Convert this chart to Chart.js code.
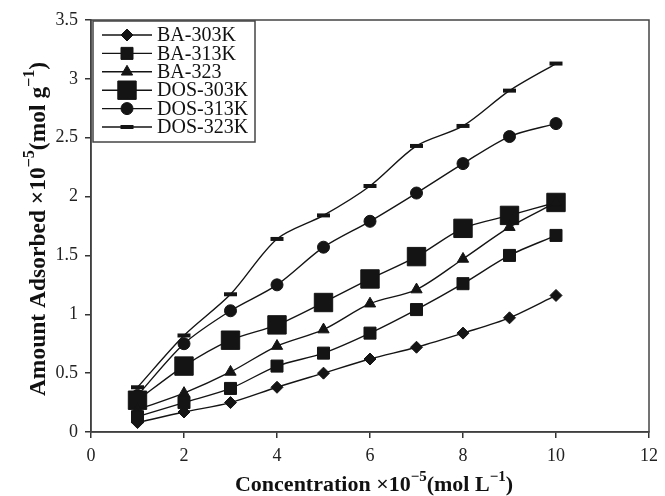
<!DOCTYPE html>
<html>
<head>
<meta charset="utf-8">
<script src="https://cdn.jsdelivr.net/npm/chart.js@4/dist/chart.umd.min.js"></script>
<style>
  html, body { margin: 0; padding: 0; background: #fff; }
  #wrap { width: 665px; height: 496px; }
</style>
</head>
<body>
<div id="wrap"><canvas id="myChart" width="665" height="496"></canvas></div>
<script>
// 濃度 (x 值)
const concentrations = [1, 2, 3, 4, 5, 6, 7, 8, 9, 10];
// 各系列吸附量
const ba303 = [0.08, 0.17, 0.25, 0.38, 0.50, 0.62, 0.72, 0.84, 0.97, 1.16];
const ba313 = [0.13, 0.25, 0.37, 0.56, 0.67, 0.84, 1.04, 1.26, 1.50, 1.67];
const ba323 = [0.19, 0.33, 0.51, 0.73, 0.87, 1.09, 1.21, 1.47, 1.74, 1.95];
const dos303 = [0.27, 0.56, 0.78, 0.91, 1.10, 1.30, 1.49, 1.73, 1.84, 1.95];
const dos313 = [0.31, 0.75, 1.03, 1.25, 1.57, 1.79, 2.03, 2.28, 2.51, 2.62];
const dos323 = [0.38, 0.82, 1.17, 1.64, 1.84, 2.09, 2.43, 2.60, 2.90, 3.13];
const seriesLabels = ['BA-303K', 'BA-313K', 'BA-323', 'DOS-303K', 'DOS-313K', 'DOS-323K'];
const xTicks = [0, 2, 4, 6, 8, 10, 12];
const yTicks = [0, 0.5, 1, 1.5, 2, 2.5, 3, 3.5];
// 軸標題 (文字, 是否上標)
const xTitle = [['Concentration ×10', false], ['−5', true], ['(mol L', false], ['−1', true], [')', false]];
const yTitle = [['Amount Adsorbed ×10', false], ['−5', true], ['(mol g', false], ['−1', true], [')', false]];

const ink = '#141414';
const serif = "'Liberation Serif', 'DejaVu Serif', serif";

function points(values) {
  return values.map((v, i) => ({ x: concentrations[i], y: v }));
}

function makeSet(label, values, style, radius, bw) {
  return {
    label: label,
    data: points(values),
    showLine: true,
    borderColor: ink,
    borderWidth: 1.4,
    backgroundColor: ink,
    pointStyle: style,
    pointRadius: radius,
    pointHoverRadius: radius,
    pointBackgroundColor: ink,
    pointBorderColor: ink,
    pointBorderWidth: bw,
    tension: 0.3,
    fill: false
  };
}

const datasets = [
  makeSet(seriesLabels[0], ba303, 'rectRot', 6, 1),
  makeSet(seriesLabels[1], ba313, 'rect', 8.5, 1),
  makeSet(seriesLabels[2], ba323, 'triangle', 6.5, 1),
  makeSet(seriesLabels[3], dos303, 'rect', 13, 1),
  makeSet(seriesLabels[4], dos313, 'circle', 6, 1),
  makeSet(seriesLabels[5], dos323, 'line', 6.5, 4)
];

// 畫含上標的文字 (置中)
function drawRich(ctx, parts, cx, baseY, size) {
  const mainFont = 'bold ' + size + 'px ' + serif;
  const supFont = 'bold ' + Math.round(size * 0.7) + 'px ' + serif;
  let total = 0;
  parts.forEach(p => {
    ctx.font = p[1] ? supFont : mainFont;
    total += ctx.measureText(p[0]).width;
  });
  let x = cx - total / 2;
  ctx.textAlign = 'left';
  ctx.textBaseline = 'alphabetic';
  parts.forEach(p => {
    ctx.font = p[1] ? supFont : mainFont;
    ctx.fillText(p[0], x, p[1] ? baseY - size * 0.45 : baseY);
    x += ctx.measureText(p[0]).width;
  });
}

// 外框與軸標題
const frame = {
  id: 'frame',
  afterDraw(chart) {
    const { ctx, chartArea: a } = chart;
    ctx.save();
    ctx.strokeStyle = '#444';
    ctx.lineWidth = 1.5;
    ctx.strokeRect(a.left, a.top, a.right - a.left, a.bottom - a.top);
    ctx.fillStyle = '#111';
    drawRich(ctx, xTitle, 374, 491, 22);
    ctx.translate(45, 229);
    ctx.rotate(-Math.PI / 2);
    drawRich(ctx, yTitle, 0, 0, 23.5);
    ctx.restore();
  }
};

// 圖例 (放在圖內左上)
const boxLegend = {
  id: 'boxLegend',
  afterDraw(chart) {
    const ctx = chart.ctx;
    const x0 = 93, y0 = 21, w = 162, h = 121;
    ctx.save();
    ctx.fillStyle = '#fff';
    ctx.fillRect(x0, y0, w, h);
    ctx.strokeStyle = '#444';
    ctx.lineWidth = 1.5;
    ctx.strokeRect(x0, y0, w, h);
    chart.data.datasets.forEach((ds, i) => {
      const cy = 35 + i * 18.4;
      ctx.strokeStyle = ink;
      ctx.lineWidth = 1.4;
      ctx.beginPath();
      ctx.moveTo(102, cy);
      ctx.lineTo(152, cy);
      ctx.stroke();
      ctx.fillStyle = ink;
      ctx.strokeStyle = ink;
      ctx.lineWidth = ds.pointBorderWidth;
      Chart.helpers.drawPoint(ctx, {
        pointStyle: ds.pointStyle,
        radius: ds.pointRadius,
        rotation: 0,
        borderWidth: ds.pointBorderWidth
      }, 127, cy);
      ctx.fillStyle = '#111';
      ctx.font = '20px ' + serif;
      ctx.textBaseline = 'middle';
      ctx.textAlign = 'left';
      ctx.fillText(ds.label, 157, cy + 1);
    });
    ctx.restore();
  }
};

const ctx = document.getElementById('myChart');
const myChart = new Chart(ctx, {
  type: 'scatter',
  data: { datasets: datasets },
  options: {
    responsive: false,
    animation: false,
    devicePixelRatio: 1,
    layout: { padding: { top: 20, right: 10, left: 0, bottom: 0 } },
    plugins: {
      legend: { display: false },
      tooltip: { enabled: false }
    },
    scales: {
      x: {
        type: 'linear',
        min: 0,
        max: 12,
        afterBuildTicks(scale) { scale.ticks = xTicks.map(v => ({ value: v })); },
        afterFit(scale) { scale.height = 64; },
        grid: { drawOnChartArea: false, drawTicks: true, tickLength: 6, color: '#333', lineWidth: 1.5 },
        border: { display: true, color: '#333', width: 1.5 },
        ticks: {
          color: '#222',
          font: { family: serif, size: 18 },
          padding: 7,
          maxRotation: 0,
          callback: v => String(v)
        },
        title: { display: false }
      },
      y: {
        type: 'linear',
        min: 0,
        max: 3.5,
        afterBuildTicks(scale) { scale.ticks = yTicks.map(v => ({ value: v })); },
        afterFit(scale) { scale.width = 91; },
        grid: { drawOnChartArea: false, drawTicks: true, tickLength: 6, color: '#333', lineWidth: 1.5 },
        border: { display: true, color: '#333', width: 1.5 },
        ticks: {
          color: '#222',
          font: { family: serif, size: 18 },
          padding: 7,
          callback: v => String(v)
        },
        title: { display: false }
      }
    }
  },
  plugins: [frame, boxLegend]
});
</script>
</body>
</html>
